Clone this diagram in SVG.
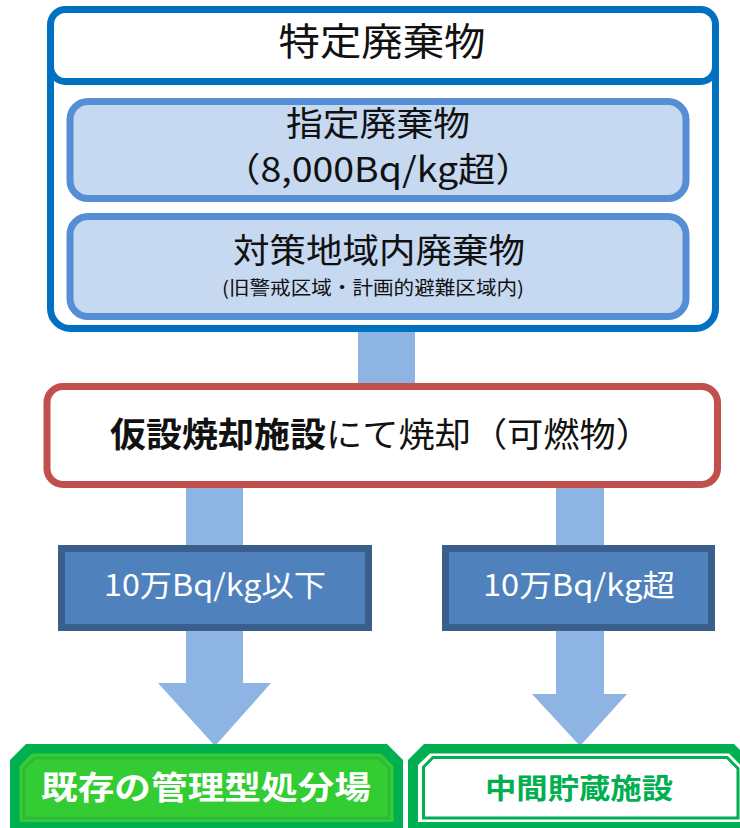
<svg xmlns="http://www.w3.org/2000/svg" width="740" height="828" viewBox="0 0 740 828">
<style>
text{font-family:"Noto Sans CJK JP","Noto Sans",sans-serif;}
.dk{fill:#111;}
.arrow{fill:#8EB4E3;}
.bluebox{fill:#4F81BD;stroke:#3A5F8D;stroke-width:7;}
.inner{fill:#C6D9F1;stroke:#558ED5;stroke-width:7;}
.wt{fill:#fff;}
</style>
<rect width="740" height="828" fill="#fff"/>
<g id="connectors">
<rect class="arrow" x="358" y="328" width="57" height="60"/>
<rect class="arrow" x="186" y="485" width="57" height="64"/>
<rect class="arrow" x="556" y="485" width="48" height="64"/>
<polygon class="arrow" points="186,628 243,628 243,683 271,683 215,746 158,683 186,683"/>
<polygon class="arrow" points="556,628 604,628 604,694 627,694 580,746 532,694 556,694"/>
</g>
<g id="tokutei">
<rect x="50.5" y="9.5" width="665" height="319" rx="20" fill="#fff" stroke="#0070C0" stroke-width="7"/>
<rect x="50.5" y="9.5" width="665" height="72" rx="15" fill="#fff" stroke="#0070C0" stroke-width="7"/>
<text x="382" y="55" font-size="38" text-anchor="middle" textLength="207" lengthAdjust="spacingAndGlyphs" class="dk">特定廃棄物</text>
</g>
<g id="shitei">
<rect class="inner" x="70" y="101.5" width="616" height="97" rx="18"/>
<text x="378" y="136" font-size="34" text-anchor="middle" textLength="184" lengthAdjust="spacingAndGlyphs" class="dk">指定廃棄物</text>
<text x="378" y="182" font-size="34" text-anchor="middle" textLength="310" lengthAdjust="spacingAndGlyphs" class="dk">（8,000Bq/kg超）</text>
</g>
<g id="taisaku">
<rect class="inner" x="70" y="216.5" width="616" height="100" rx="18"/>
<text x="379" y="263" font-size="34" text-anchor="middle" textLength="292" lengthAdjust="spacingAndGlyphs" class="dk">対策地域内廃棄物</text>
<text x="373" y="295" font-size="19" text-anchor="middle" textLength="302" lengthAdjust="spacingAndGlyphs" class="dk">(旧警戒区域・計画的避難区域内)</text>
</g>
<g id="shoukyaku">
<rect x="47" y="386.5" width="670.5" height="98" rx="16" fill="#fff" stroke="#C0504D" stroke-width="7"/>
<text x="110" y="447" font-size="34" font-weight="700" textLength="216" lengthAdjust="spacingAndGlyphs" class="dk">仮設焼却施設</text>
<text x="326" y="447" font-size="34" textLength="326" lengthAdjust="spacingAndGlyphs" class="dk">にて焼却（可燃物）</text>
</g>
<g id="ika">
<rect class="bluebox" x="61.5" y="548.5" width="307" height="79"/>
<text x="215" y="596" font-size="30" text-anchor="middle" textLength="222" lengthAdjust="spacingAndGlyphs" class="wt">10万Bq/kg以下</text>
</g>
<g id="chou">
<rect class="bluebox" x="445.5" y="548.5" width="266" height="79"/>
<text x="579" y="596" font-size="30" text-anchor="middle" textLength="192" lengthAdjust="spacingAndGlyphs" class="wt">10万Bq/kg超</text>
</g>
<g id="kanri">
<polygon points="26,744 387,744 403,760 403,832 10,832 10,760" fill="#00B050"/>
<polygon points="32,753.5 381,753.5 393.5,766 393.5,822 19.5,822 19.5,766" fill="#33CC33"/>
<polygon points="35,758 379,758 389,768 389,818 24,818 24,768" fill="none" stroke="#2DB83A" stroke-width="2.5"/>
<text x="206" y="799" font-size="32" font-weight="700" text-anchor="middle" textLength="330" lengthAdjust="spacingAndGlyphs" fill="#fff">既存の管理型処分場</text>
</g>
<g id="chukan">
<polygon points="424,744 734,744 752,762 752,832 408,832 408,760" fill="#00B050"/>
<polygon points="430,753.5 729,753.5 742,766.5 742,822 418,822 418,765" fill="#fff"/>
<polygon points="433,757.5 727,757.5 738,768.5 738,818 423.5,818 423.5,767" fill="none" stroke="#00B050" stroke-width="3"/>
<text x="579" y="799" font-size="28" font-weight="700" text-anchor="middle" textLength="188" lengthAdjust="spacingAndGlyphs" fill="#00B050">中間貯蔵施設</text>
</g>
</svg>
